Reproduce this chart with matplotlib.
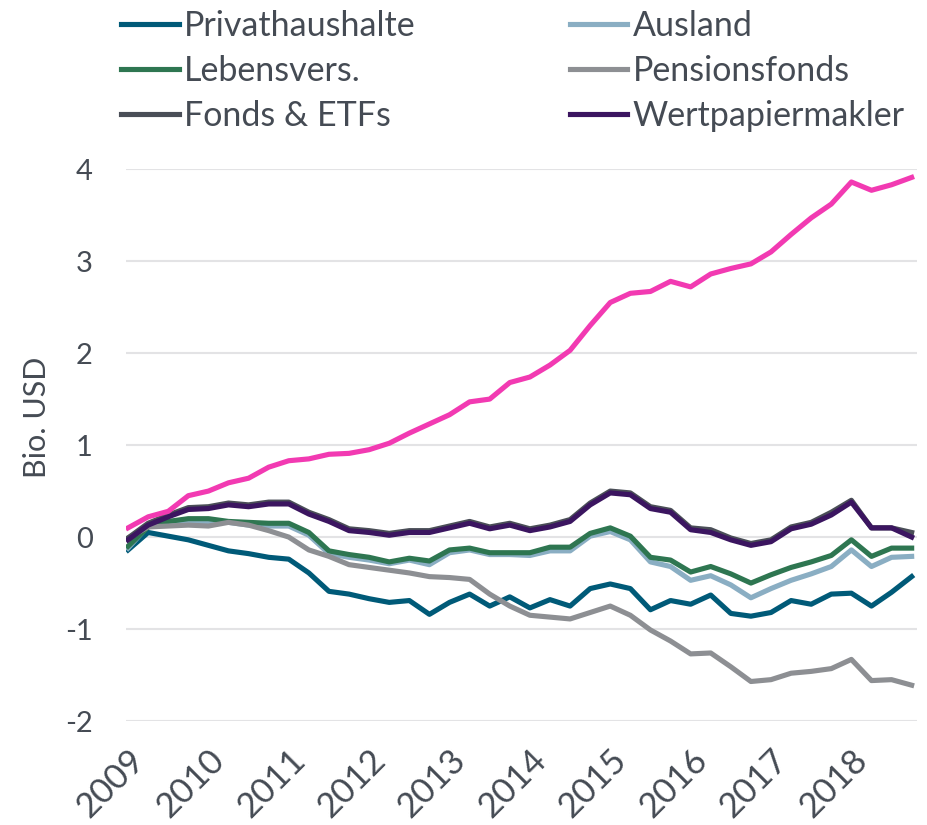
import numpy as np
import matplotlib.pyplot as plt
from matplotlib import transforms

# quarterly data, 2009 Q1 .. 2018 Q4 (Bio. USD)
years = ['2009', '2010', '2011', '2012', '2013', '2014', '2015', '2016', '2017', '2018']

privathaushalte = [-0.14, 0.05, 0.01, -0.03, -0.09, -0.15, -0.18, -0.22, -0.24, -0.39,
                   -0.59, -0.62, -0.67, -0.71, -0.69, -0.84, -0.71, -0.62, -0.75, -0.65,
                   -0.77, -0.68, -0.75, -0.56, -0.51, -0.56, -0.79, -0.69, -0.73, -0.63,
                   -0.83, -0.86, -0.82, -0.69, -0.73, -0.62, -0.61, -0.75, -0.60, -0.43]
ausland = [-0.12, 0.12, 0.15, 0.15, 0.16, 0.16, 0.13, 0.12, 0.12, 0.02,
           -0.18, -0.22, -0.25, -0.29, -0.25, -0.30, -0.17, -0.14, -0.19, -0.19,
           -0.20, -0.15, -0.15, 0.01, 0.06, -0.03, -0.27, -0.32, -0.47, -0.42,
           -0.52, -0.66, -0.56, -0.47, -0.40, -0.32, -0.14, -0.32, -0.22, -0.21]
lebensvers = [-0.10, 0.11, 0.17, 0.20, 0.20, 0.17, 0.16, 0.15, 0.15, 0.05,
              -0.15, -0.19, -0.22, -0.27, -0.23, -0.26, -0.14, -0.12, -0.17, -0.17,
              -0.17, -0.11, -0.11, 0.04, 0.10, 0.01, -0.22, -0.25, -0.38, -0.32,
              -0.40, -0.50, -0.41, -0.33, -0.27, -0.20, -0.03, -0.21, -0.12, -0.12]
pensionsfonds = [-0.01, 0.11, 0.12, 0.13, 0.12, 0.16, 0.13, 0.07, 0.00, -0.14,
                 -0.21, -0.30, -0.33, -0.36, -0.39, -0.43, -0.44, -0.46, -0.62, -0.75,
                 -0.85, -0.87, -0.89, -0.82, -0.75, -0.85, -1.01, -1.13, -1.27, -1.26,
                 -1.41, -1.57, -1.55, -1.48, -1.46, -1.43, -1.33, -1.56, -1.55, -1.61]
fonds_etfs = [-0.01, 0.15, 0.24, 0.32, 0.33, 0.37, 0.35, 0.38, 0.38, 0.27,
              0.19, 0.09, 0.07, 0.04, 0.07, 0.07, 0.12, 0.17, 0.11, 0.15,
              0.09, 0.13, 0.19, 0.37, 0.50, 0.48, 0.33, 0.29, 0.10, 0.08,
              -0.01, -0.07, -0.03, 0.11, 0.16, 0.27, 0.40, 0.10, 0.10, 0.05]
wertpapiermakler = [-0.03, 0.13, 0.22, 0.30, 0.31, 0.35, 0.33, 0.36, 0.36, 0.25,
                    0.17, 0.07, 0.05, 0.02, 0.05, 0.05, 0.10, 0.15, 0.09, 0.13,
                    0.07, 0.11, 0.17, 0.35, 0.48, 0.46, 0.31, 0.27, 0.08, 0.05,
                    -0.03, -0.09, -0.05, 0.09, 0.14, 0.24, 0.38, 0.10, 0.10, 0.00]
sonstige = [0.10, 0.22, 0.28, 0.45, 0.50, 0.59, 0.64, 0.76, 0.83, 0.85,
            0.90, 0.91, 0.95, 1.02, 1.13, 1.23, 1.33, 1.47, 1.50, 1.68,
            1.74, 1.87, 2.03, 2.30, 2.55, 2.65, 2.67, 2.78, 2.72, 2.86,
            2.92, 2.97, 3.10, 3.29, 3.47, 3.62, 3.86, 3.77, 3.83, 3.91]

x = np.arange(len(sonstige))
text_color = '#454b54'

plt.rcParams['font.family'] = ['Lato', 'DejaVu Sans']
plt.rcParams['axes.unicode_minus'] = False

fig = plt.figure(figsize=(9.28, 8.25), dpi=100)
ax = fig.add_axes([0.1358, 0.126, 0.852, 0.669])

lw = 3.7
l_priv, = ax.plot(x, privathaushalte, color='#005a78', lw=lw, label='Privathaushalte')
l_aus, = ax.plot(x, ausland, color='#8aaec3', lw=lw, label='Ausland')
l_leb, = ax.plot(x, lebensvers, color='#2e7651', lw=lw, label='Lebensvers.')
l_pen, = ax.plot(x, pensionsfonds, color='#8d8f93', lw=lw, label='Pensionsfonds')
l_fon, = ax.plot(x, fonds_etfs, color='#4a4e57', lw=lw, label='Fonds & ETFs')
l_wer, = ax.plot(x, wertpapiermakler, color='#3b1560', lw=lw, label='Wertpapiermakler')
ax.plot(x, sonstige, color='#f23ab2', lw=lw)

ax.set_xlim(-0.1, 39.25)
ax.set_ylim(-2, 4)
ax.set_yticks(range(-2, 5))
ax.grid(axis='y', color='#e3e3e5', lw=1.5)
ax.set_axisbelow(True)
for s in ax.spines.values():
    s.set_visible(False)

ax.tick_params(axis='y', length=0, pad=24, labelsize=21, labelcolor=text_color)
ax.tick_params(axis='x', length=0, pad=16, labelsize=25, labelcolor=text_color)
ax.set_xticks(x[::4])
ax.set_xticklabels(years, rotation=45, ha='right', va='top', rotation_mode='anchor')
offset = transforms.ScaledTranslation(0, 0, fig.dpi_scale_trans)
for lab in ax.get_xticklabels():
    lab.set_transform(lab.get_transform() + offset)

fig.text(37 / 928, 1 - 417 / 825, 'Bio. USD', rotation=90, ha='center', va='center',
         fontsize=22, color=text_color)

handles = [l_priv, l_leb, l_fon, l_aus, l_pen, l_wer]
fig.legend(handles=handles, labels=[h.get_label() for h in handles], ncol=2,
           loc='upper left', bbox_to_anchor=(118 / 928, 0.992), frameon=False,
           fontsize=24.5, handlelength=1.68, handletextpad=0.15, columnspacing=4.55,
           labelspacing=0.38, borderaxespad=0, borderpad=0.1, labelcolor=text_color)

plt.savefig('out.png', dpi=100)
